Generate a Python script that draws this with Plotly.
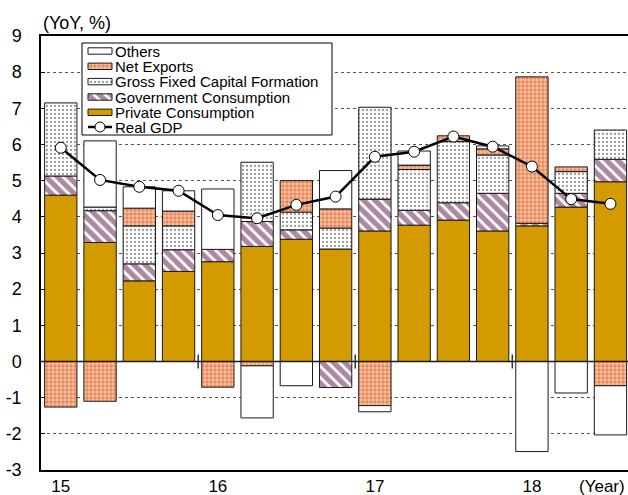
import plotly.graph_objects as go

# quarterly contributions, 2015Q1 - 2018Q3 (YoY, % points)
quarters = list(range(15))
private = [4.60, 3.29, 2.23, 2.49, 2.76, 3.18, 3.38, 3.11, 3.61, 3.77, 3.91, 3.61, 3.75, 4.27, 4.97]
government = [0.53, 0.88, 0.47, 0.60, 0.34, 0.69, 0.26, -0.72, 0.88, 0.41, 0.48, 1.04, 0.07, 0.38, 0.62]
gfcf = [2.02, 0.10, 1.05, 0.66, None, 1.64, 0.49, 0.58, 2.54, 1.13, 1.69, 1.06, None, 0.60, 0.81]
net_exports = [-1.26, -1.10, 0.49, 0.41, -0.71, -0.12, 0.87, 0.53, -1.22, 0.12, 0.16, 0.17, 4.05, 0.13, -0.67]
others = [None, 1.83, 0.59, 0.56, 1.67, -1.44, -0.67, 1.06, -0.17, 0.39, None, 0.08, -2.49, -0.87, -1.36]
real_gdp = [5.91, 5.02, 4.83, 4.72, 4.05, 3.96, 4.33, 4.56, 5.66, 5.80, 6.22, 5.94, 5.39, 4.49, 4.36]

year_ticks = [0, 4, 8, 12]
year_labels = ["15", "16", "17", "18"]
year_breaks = [3.5, 7.5, 11.5]
y_ticks = list(range(-3, 10))
y_labels = [str(v) for v in y_ticks]  # plain hyphen minus, as in the original

FONT = "Arial, Liberation Sans, sans-serif"
OUTLINE = dict(color="#1a1a1a", width=1)

styles = {
    "Private Consumption": dict(color="#D39B00", line=OUTLINE),
    "Government Consumption": dict(color="white", line=OUTLINE,
                                   pattern=dict(shape="\\", fgcolor="#5A1245", bgcolor="white",
                                                size=8, solidity=0.65)),
    "Gross Fixed Capital Formation": dict(color="white", line=OUTLINE,
                                          pattern=dict(shape=".", fgcolor="#333333", bgcolor="white",
                                                       size=4, solidity=0.25)),
    "Net Exports": dict(color="#F4B892", line=OUTLINE,
                        pattern=dict(shape=".", fgcolor="#D9501A", bgcolor="#F6C3A2",
                                     size=4, solidity=0.6)),
    "Others": dict(color="white", line=OUTLINE),
}

series = [
    ("Private Consumption", private),
    ("Government Consumption", government),
    ("Gross Fixed Capital Formation", gfcf),
    ("Net Exports", net_exports),
    ("Others", others),
]

fig = go.Figure()
for name, vals in series:
    fig.add_trace(go.Bar(x=quarters, y=vals, name=name, marker=styles[name],
                         width=0.823, showlegend=False))

fig.add_trace(go.Scatter(
    x=quarters, y=real_gdp, mode="lines+markers", name="Real GDP", showlegend=False,
    line=dict(color="black", width=2.5),
    marker=dict(symbol="circle", size=11, color="white", line=dict(color="black", width=1)),
))

# small ticks on the zero line between years
fig.add_trace(go.Scatter(
    x=year_breaks, y=[0] * len(year_breaks), mode="markers", showlegend=False, hoverinfo="skip",
    marker=dict(symbol="line-ns", size=10, line=dict(color="#333", width=1.5)),
))

# hand-drawn legend in pixel coordinates of the plot area (overlay axes)
lx0, lx1, ly0, ly1 = 82, 332, 43, 135
fig.add_trace(go.Scatter(
    x=[lx0, lx1, lx1, lx0, lx0], y=[ly0, ly0, ly1, ly1, ly0], fill="toself",
    fillcolor="white", mode="lines", line=dict(color="black", width=1),
    xaxis="x2", yaxis="y2", showlegend=False, hoverinfo="skip",
))
legend_rows = [("Others", 51), ("Net Exports", 66.3), ("Gross Fixed Capital Formation", 81.6),
               ("Government Consumption", 97), ("Private Consumption", 112.3)]
for name, yc in legend_rows:
    st = styles[name]
    fig.add_trace(go.Scatter(
        x=[88, 112, 112, 88, 88], y=[yc - 3.2, yc - 3.2, yc + 3.2, yc + 3.2, yc - 3.2],
        fill="toself", fillcolor=st["color"], fillpattern=st.get("pattern"), mode="lines",
        line=dict(color="#1a1a1a", width=1), xaxis="x2", yaxis="y2",
        showlegend=False, hoverinfo="skip",
    ))
    fig.add_annotation(x=113, y=yc, xref="x2", yref="y2", text=name, showarrow=False,
                       xanchor="left", yanchor="middle", font=dict(size=15, family=FONT, color="black"))
gdp_y = 127
fig.add_trace(go.Scatter(
    x=[88, 100, 112], y=[gdp_y] * 3, mode="lines", line=dict(color="black", width=2.5),
    xaxis="x2", yaxis="y2", showlegend=False, hoverinfo="skip",
))
fig.add_trace(go.Scatter(
    x=[100], y=[gdp_y], mode="markers",
    marker=dict(symbol="circle", size=10, color="white", line=dict(color="black", width=1)),
    xaxis="x2", yaxis="y2", showlegend=False, hoverinfo="skip",
))
fig.add_annotation(x=113, y=gdp_y, xref="x2", yref="y2", text="Real GDP", showarrow=False,
                   xanchor="left", yanchor="middle", font=dict(size=15, family=FONT, color="black"))

fig.add_shape(type="line", xref="paper", x0=0, x1=1, yref="y", y0=0, y1=0,
              line=dict(color="#1a1a1a", width=1.5), layer="above")

fig.add_annotation(x=0, y=1, xref="paper", yref="paper", text="(YoY, %)", showarrow=False,
                   xanchor="left", yanchor="bottom", yshift=1,
                   font=dict(size=18, family=FONT, color="black"))
fig.add_annotation(x=0.955, y=0, xref="paper", yref="paper", text="(Year)", showarrow=False,
                   xanchor="center", yanchor="top", yshift=-5,
                   font=dict(size=17, family=FONT, color="black"))

fig.update_layout(
    width=628, height=495,
    margin=dict(l=41, r=0, t=36, b=25),
    barmode="relative",
    plot_bgcolor="white", paper_bgcolor="white",
    font=dict(family=FONT, size=18, color="black"),
    xaxis=dict(range=[-0.504, 14.447], tickvals=year_ticks, ticktext=year_labels,
               tickfont=dict(size=17), showgrid=False, zeroline=False, ticks="",
               showline=True, linecolor="black", linewidth=1.5, mirror=True,
               automargin=False, fixedrange=True),
    yaxis=dict(range=[-3, 9], tickvals=y_ticks, ticktext=y_labels, showgrid=True,
               gridcolor="#555555", griddash="dot", gridwidth=1, zeroline=False,
               ticks="inside", ticklen=4, tickcolor="black",
               showline=True, linecolor="black", linewidth=1.5, automargin=False,
               ticklabelstandoff=14, fixedrange=True),
    xaxis2=dict(overlaying="x", range=[41, 628], visible=False, fixedrange=True),
    yaxis2=dict(overlaying="y", range=[470, 36], visible=False, fixedrange=True),
)

# drop the browser's default 8px body margin so the figure fills the window
fig.write_html("out.html", config={"displayModeBar": False},
               post_script="document.body.style.margin='0';document.body.style.overflow='hidden';")
